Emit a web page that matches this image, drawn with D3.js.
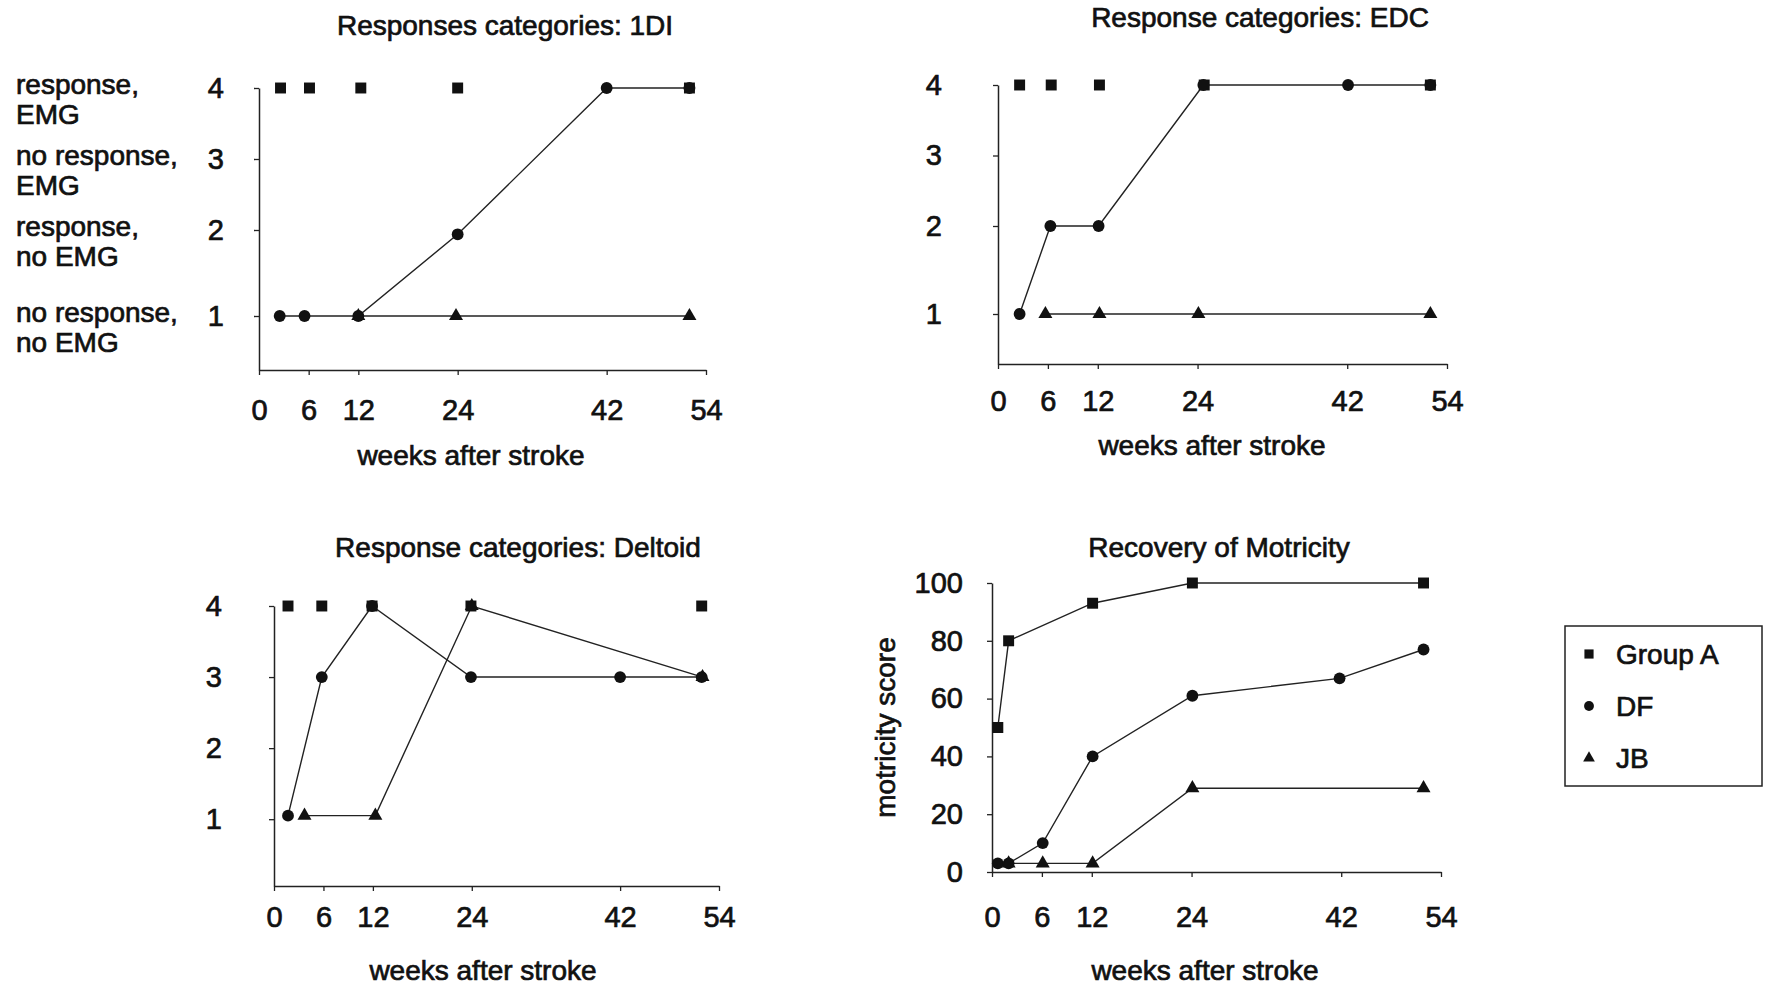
<!DOCTYPE html>
<html>
<head>
<meta charset="utf-8">
<script src="https://cdn.jsdelivr.net/npm/d3@7"></script>
<style>
  body { margin: 0; background: #fff; }
  svg text { font-family: "Liberation Sans", Arial, sans-serif; fill: #111; stroke: #111; stroke-width: 0.7px; }
</style>
</head>
<body>
<svg id="chart" width="1768" height="986"></svg>
<script>
// tick values and labels
var weekTicks = [0, 6, 12, 24, 42, 54];
var categoryTicks = [1, 2, 3, 4];
var motricityTicks = [0, 20, 40, 60, 80, 100];
var categoryLabels = [["no response,", "no EMG"], ["response,", "no EMG"], ["no response,", "EMG"], ["response,", "EMG"]];
var seriesNames = ["Group A", "DF", "JB"];

// [week, value] per series
var fdiGroupA = [[2.6, 4], [6.1, 4], [12.3, 4], [24, 4], [52, 4]];
var fdiDF = [[2.5, 1], [5.5, 1], [12, 1], [24, 1.95], [42, 4], [52, 4]];
var fdiJB = [[12, 1], [23.8, 1], [52, 1]];

var edcGroupA = [[2.6, 4], [6.4, 4], [12.2, 4], [24.8, 4], [52, 4]];
var edcDF = [[2.6, 1], [6.3, 2], [12.1, 2], [24.7, 4], [42.1, 4], [52, 4]];
var edcJB = [[5.7, 1], [12.2, 1], [24.1, 1], [52, 1]];

var deltGroupA = [[1.7, 4], [5.8, 4], [11.9, 4], [23.9, 4], [51.9, 4]];
var deltDF = [[1.7, 1.05], [5.8, 3], [11.9, 4], [23.9, 3], [42, 3], [51.9, 3]];
var deltJB = [[3.7, 1.05], [12.3, 1.05], [24, 4], [52, 3]];

var motGroupA = [[0.7, 50], [2, 80], [12.1, 93], [24.1, 100], [51.9, 100]];
var motDF = [[0.7, 3], [2, 3], [6.1, 10], [12.1, 40], [24.1, 61], [41.8, 67], [51.9, 77]];
var motJB = [[2, 3], [6.1, 3], [12.1, 3], [24.1, 29], [51.9, 29]];

var svg = d3.select("#chart");
var symbols = [d3.symbolSquare, d3.symbolCircle, d3.symbolTriangle];
var symbolSize = [120, 110, 85];

var panels = [
  {title: "Responses categories: 1DI", tx: 505, ty: 25,
   xr: [259, 706], yd: [0.32, 1, 2, 4], yr: [370, 316, 230, 88],
   yticks: categoryTicks, ypad: 30, xpad: 24, xlab: [471, 455],
   series: [fdiGroupA, fdiDF, fdiJB], joinA: false, categories: true},
  {title: "Response categories: EDC", tx: 1260, ty: 17,
   xr: [998, 1447], yd: [0.33, 1, 2, 4], yr: [364, 314, 226, 85],
   yticks: categoryTicks, ypad: 51, xpad: 21, xlab: [1212, 445],
   series: [edcGroupA, edcDF, edcJB], joinA: false},
  {title: "Response categories: Deltoid", tx: 518, ty: 547,
   xr: [274, 719], yd: [0.06, 4], yr: [886, 606],
   yticks: categoryTicks, ypad: 47, xpad: 15, xlab: [483, 970],
   series: [deltGroupA, deltDF, deltJB], joinA: false},
  {title: "Recovery of Motricity", tx: 1219, ty: 547,
   xr: [992, 1441], yd: [0, 100], yr: [872, 583],
   yticks: motricityTicks, ypad: 24, xpad: 29, xlab: [1205, 970],
   series: [motGroupA, motDF, motJB], joinA: true, ytitle: "motricity score"}
];

function drawPanel(p) {
  var x = d3.scaleLinear().domain([0, 54]).range(p.xr);
  var y = d3.scaleLinear().domain(p.yd).range(p.yr);
  var g = svg.append("g");

  g.append("text").attr("x", p.tx).attr("y", p.ty + 10)
    .attr("text-anchor", "middle").style("font-size", "28px").text(p.title);

  var yAxis = g.append("g").attr("transform", "translate(" + p.xr[0] + ",0)")
    .call(d3.axisLeft(y).tickValues(p.yticks).tickFormat(d3.format("d"))
      .tickSize(5).tickSizeOuter(0).tickPadding(p.ypad));
  var xAxis = g.append("g").attr("transform", "translate(0," + p.yr[0] + ")")
    .call(d3.axisBottom(x).tickValues(weekTicks).tickSize(5).tickSizeOuter(0).tickPadding(p.xpad));
  [yAxis, xAxis].forEach(function(a) {
    a.select(".domain").attr("stroke", "#222").attr("stroke-width", 1.5);
    a.selectAll(".tick line").attr("stroke", "#222").attr("stroke-width", 1.3);
    a.selectAll(".tick text").style("font-family", null).style("font-size", "29px").attr("fill", "#111");
  });

  g.append("text").attr("x", p.xlab[0]).attr("y", p.xlab[1] + 10)
    .attr("text-anchor", "middle").style("font-size", "28px").text("weeks after stroke");

  if (p.ytitle) {
    g.append("text").attr("transform", "translate(895," + ((p.yr[0] + p.yr[1]) / 2) + ") rotate(-90)")
      .attr("text-anchor", "middle").style("font-size", "28px").text(p.ytitle);
  }

  if (p.categories) {
    categoryTicks.forEach(function(v, i) {
      var t = g.append("text").attr("x", 16).attr("y", y(v) + 6).style("font-size", "28px");
      t.append("tspan").attr("x", 16).text(categoryLabels[i][0]);
      t.append("tspan").attr("x", 16).attr("dy", 30).text(categoryLabels[i][1]);
    });
  }

  var line = d3.line().x(function(d) { return x(d[0]); }).y(function(d) { return y(d[1]); });

  p.series.forEach(function(s, i) {
    if (i > 0 || p.joinA) {
      g.append("path").datum(s).attr("d", line)
        .attr("fill", "none").attr("stroke", "#222").attr("stroke-width", 1.4);
    }
  });
  p.series.forEach(function(s, i) {
    g.selectAll(null).data(s).enter().append("path")
      .attr("d", d3.symbol().type(symbols[i]).size(symbolSize[i]))
      .attr("transform", function(d) { return "translate(" + x(d[0]) + "," + y(d[1]) + ")"; })
      .attr("fill", "#111");
  });
}

panels.forEach(drawPanel);

// legend
var legend = svg.append("g");
legend.append("rect").attr("x", 1565).attr("y", 626).attr("width", 197).attr("height", 160)
  .attr("fill", "none").attr("stroke", "#222").attr("stroke-width", 1.5);
seriesNames.forEach(function(name, i) {
  var cy = 654 + i * 52;
  legend.append("path")
    .attr("d", d3.symbol().type(symbols[i]).size(symbolSize[i] * 0.7))
    .attr("transform", "translate(1589," + cy + ")").attr("fill", "#111");
  legend.append("text").attr("x", 1616).attr("y", cy + 10).style("font-size", "28px").text(name);
});
</script>
</body>
</html>
